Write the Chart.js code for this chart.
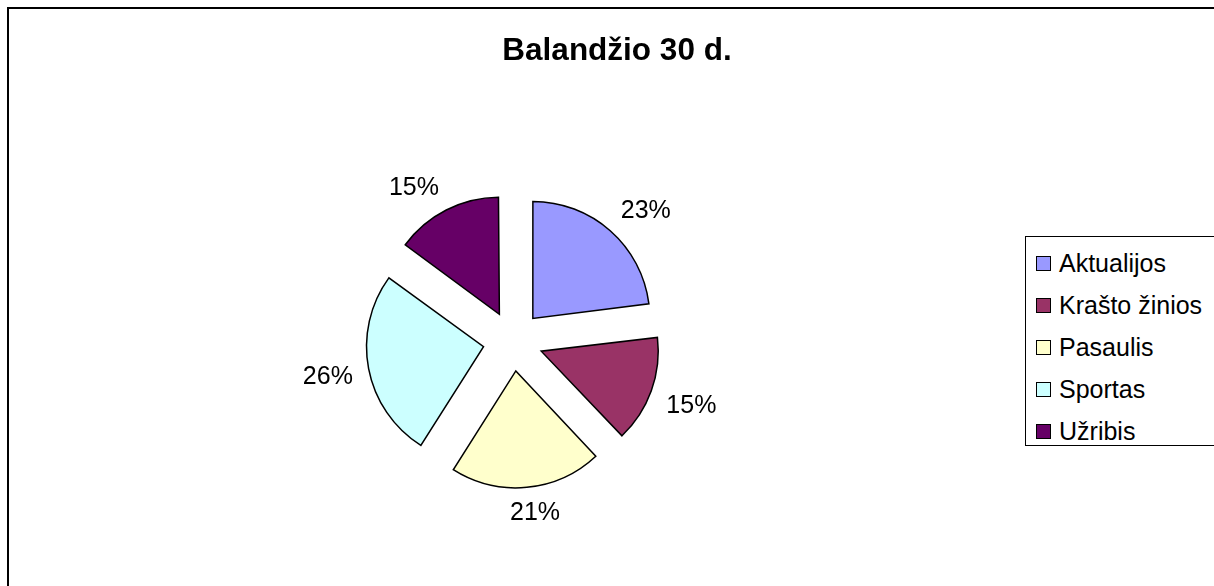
<!DOCTYPE html>
<html>
<head>
<meta charset="utf-8">
<script src="https://cdn.jsdelivr.net/npm/chart.js@4.4.1/dist/chart.umd.min.js"></script>
<style>
  html, body { margin: 0; padding: 0; background: #fff; overflow: hidden; width: 1214px; height: 586px; }
  #frame { position: absolute; left: 7px; top: 7px; width: 1216px; height: 620px; border: 2px solid #000; }
  #chPie { display: block; }
  #title {
    position: absolute; left: 0; top: 31px; width: 1234px; text-align: center;
    font-family: 'Liberation Sans', Arial, sans-serif; font-weight: bold; font-size: 31.5px;
    line-height: 36px; color: #000; white-space: nowrap;
  }
  #legend {
    position: absolute; left: 1016px; top: 227px; width: 220px; height: 208px;
    border: 1.5px solid #000; background: #fff;
    font-family: 'Liberation Sans', Arial, sans-serif; font-size: 25px; color: #000;
  }
  .lg-row { position: absolute; left: 10px; height: 30px; line-height: 30px; white-space: nowrap; }
  .lg-box { position: absolute; left: 0; top: 8px; width: 13px; height: 13px; border: 1.5px solid #000; }
  .lg-txt { position: absolute; left: 23px; top: 0; }
</style>
</head>
<body>
<div id="frame">
  <canvas id="chPie" width="1216" height="620"></canvas>
  <div id="legend"></div>
</div>
<div id="title"></div>
<script>
// Balandžio 30 d. - share of articles by section
const chartTitle = 'Balandžio 30 d.';
const categories = ['Aktualijos', 'Krašto žinios', 'Pasaulis', 'Sportas', 'Užribis'];
const shares = [23, 15, 21, 26, 15];
const sliceColors = ['#9999FF', '#993366', '#FFFFCC', '#CCFFFF', '#660066'];

const PIE_R = 117;     // px
const EXPLODE = 120;   // chart.js moves arcs by offset/4

// keep every exploded slice on the same radius (chart.js grows narrow ones a bit)
const evenRadius = {
    id: 'evenRadius',
    afterDatasetsUpdate(chart) {
        chart.getDatasetMeta(0).data.forEach(arc => {
            const fix = 1 - Math.sin(Math.min(Math.PI, arc.circumference));
            arc.outerRadius = PIE_R - (EXPLODE / 4) * fix;
        });
    }
};

// percent labels outside each slice, box pushed out from the bisector point
const clamp1 = v => Math.max(-1, Math.min(1, v));
const pctLabels = {
    id: 'pctLabels',
    afterDatasetsDraw(chart) {
        const ctx = chart.ctx;
        const meta = chart.getDatasetMeta(0);
        const total = shares.reduce((a, b) => a + b, 0);
        ctx.save();
        ctx.font = '25px "Liberation Sans", Arial, sans-serif';
        ctx.fillStyle = '#000';
        ctx.textAlign = 'center';
        ctx.textBaseline = 'middle';
        meta.data.forEach((arc, i) => {
            const p = arc.getProps(['x', 'y', 'startAngle', 'endAngle'], true);
            const mid = (p.startAngle + p.endAngle) / 2;
            const txt = Math.round(shares[i] / total * 100) + '%';
            const hw = ctx.measureText(txt).width / 2;
            const hh = 9;
            const c = Math.cos(mid), s = Math.sin(mid);
            const D = 163;
            const lx = p.x + c * D + hw * clamp1(c / 0.35);
            const ly = p.y + s * D + hh * clamp1(s / 0.35);
            ctx.fillText(txt, lx, ly + 1);
        });
        ctx.restore();
    }
};

function buildLegend() {
    const el = document.getElementById('legend');
    categories.forEach((name, i) => {
        const row = document.createElement('div');
        row.className = 'lg-row';
        row.style.top = (11 + i * 42) + 'px';
        row.innerHTML = '<span class="lg-box" style="background:' + sliceColors[i] + '"></span>' +
                        '<span class="lg-txt"></span>';
        row.querySelector('.lg-txt').textContent = name;
        el.appendChild(row);
    });
}

const ctx = document.getElementById('chPie').getContext('2d');
new Chart(ctx, {
    type: 'pie',
    data: {
        labels: categories,
        datasets: [{
            data: shares,
            backgroundColor: sliceColors,
            borderColor: '#000',
            borderWidth: 1.5,
            borderJoinStyle: 'miter',
            offset: EXPLODE,
            radius: PIE_R
        }]
    },
    options: {
        responsive: false,
        animation: false,
        layout: { padding: { left: 0, right: 208, top: 100, bottom: 56 } },
        plugins: {
            legend: { display: false },
            tooltip: { enabled: false },
            title: { display: false }
        }
    },
    plugins: [evenRadius, pctLabels]
});

document.getElementById('title').textContent = chartTitle;
buildLegend();
</script>
</body>
</html>
